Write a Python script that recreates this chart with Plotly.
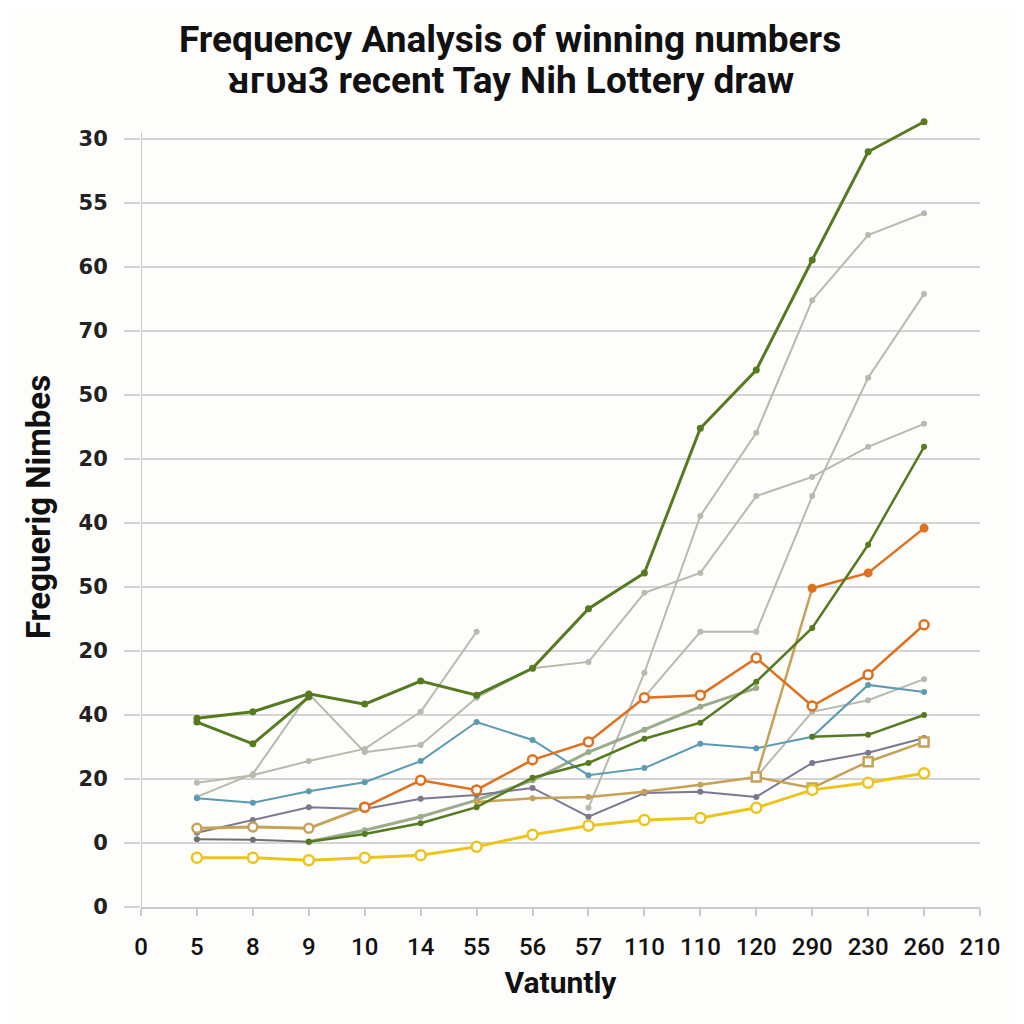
import plotly.graph_objects as go

# ---- data ----
x_idx = list(range(1, 15))
x_tick_labels = ["0", "5", "8", "9", "10", "14", "55", "56", "57", "110", "110", "120", "290", "230", "260", "210"]
y_tick_labels = ["0", "0", "20", "40", "20", "50", "40", "20", "50", "70", "60", "55", "30"]
title_line1 = "Frequency Analysis of winning numbers"
title_line2 = "ᴚᴦᴜᴚ3 recent Tay Nih Lottery draw"

N = None
green_top = [29.5, 30.5, 33.3, 31.7, 35.3, 33.1, 37.3, 46.6, 52.2, 74.8, 83.9, 101.1, 118.0, 122.7]
green_dip = [28.9, 25.5, 32.8, N, N, N, N, N, N, N, N, N, N, N]
green_low = [N, N, 10.2, 11.4, 13.1, 15.6, 20.2, 22.5, 26.3, 28.8, 35.2, 43.6, 56.6, 71.9]
green_short = [N, N, N, N, N, N, N, N, N, N, N, 26.6, 26.9, 30.0]
dark_gray = [10.6, 10.5, 10.2, N, N, N, N, N, N, N, N, N, N, N]
gray_a = [19.4, 20.6, 22.8, 24.7, 30.5, 43.0, N, N, N, N, N, N, N, N]
gray_b = [17.2, 20.8, 33.3, 24.2, 25.3, 32.7, 37.3, 38.3, 49.1, 52.2, 64.2, 67.2, 71.9, 75.5]
gray_e = [N, N, N, N, N, N, N, 15.5, 36.6, 61.1, 74.1, 94.8, 105.0, 108.4]
sage = [N, N, 10.2, 12.0, 14.1, 16.7, 19.8, 24.2, 27.7, 31.3, 34.2, N, N, N]
gray_d = [N, N, N, N, N, N, N, N, N, N, 20.3, 30.5, 32.3, 35.6]
gray_t = [N, N, N, N, N, N, N, N, 32.8, 43.0, 43.0, 64.2, 82.7, 95.8]
blue = [17.0, 16.3, 18.1, 19.5, 22.8, 28.9, 26.1, 20.6, 21.7, 25.5, 24.8, 26.6, 34.7, 33.6]
tan_1 = [12.3, 12.5, 12.3, 15.6, N, N, N, N, N, N, N, N, N, N]
orange_1 = [N, N, N, 15.6, 19.8, 18.3, 23.0, 25.8, 32.7, 33.1, 38.9, 31.4, 36.3, 44.1]
tan_2 = [N, N, N, N, N, 16.4, 17.0, 17.2, 18.0, 19.1, 20.3, 49.8, N, N]
orange_2 = [N, N, N, N, N, N, N, N, N, N, N, 49.8, 52.2, 59.2]
tan_4 = [N, N, N, N, N, N, N, N, N, N, 20.3, 18.6, 22.7, 25.8]
purple = [11.6, 13.6, 15.6, 15.3, 16.9, 17.5, 18.6, 14.1, 17.8, 18.0, 17.2, 22.5, 24.1, 26.4]
yellow = [7.7, 7.7, 7.3, 7.7, 8.1, 9.4, 11.3, 12.7, 13.6, 13.9, 15.5, 18.3, 19.4, 20.9]

GREEN = "#557a1f"
GRAY = "#b6bbad"
SAGE = "#9bac8c"
BLUE = "#5a9ab2"
ORANGE = "#e0701e"
TAN = "#c5a257"
PURPLE = "#7c7891"
DGRAY = "#707070"
YELLOW = "#ebc51c"
AXIS = "#c9c9c9"

fig = go.Figure()


def add(y, color, width=2, size=6, hollow=False, symbol="circle"):
    fig.add_trace(go.Scatter(
        x=x_idx, y=y, mode="lines+markers", cliponaxis=False,
        line=dict(color=color, width=width),
        marker=dict(symbol=symbol, size=size,
                    color="white" if hollow else color,
                    line=dict(color=color, width=2.5 if hollow else 0)),
        showlegend=False, hoverinfo="skip"))


add(gray_a, GRAY)
add(gray_b, GRAY)
add(gray_e, GRAY)
add(gray_t, GRAY)
add(gray_d, GRAY)
add(sage, SAGE, width=3)
add(dark_gray, DGRAY)
add(purple, PURPLE)
add(blue, BLUE)
add(tan_1, TAN, width=3, size=9, hollow=True)
add(tan_2, TAN, width=2.5)
add(tan_4, TAN, width=2.5, size=9, hollow=True, symbol="square")
add(orange_1, ORANGE, width=2.5, size=9, hollow=True)
add(orange_2, ORANGE, width=2.5, size=9)
add(green_low, GREEN, width=2.5)
add(green_short, GREEN, width=2.5)
add(green_dip, GREEN, width=3, size=7)
add(green_top, GREEN, width=3, size=7)
add(yellow, YELLOW, width=3, size=10, hollow=True)

TITLE_FONT = dict(family="Roboto, Liberation Sans, Arial", size=37, color="#111", weight="bold")

Y_MAX = 125.0
Y_AXIS_TOP = 121.0
plot_h = 774 * Y_MAX / Y_AXIS_TOP  # keep 6.4 px per unit

fig.update_layout(
    width=1016, height=1016,
    paper_bgcolor="#fdfdfc", plot_bgcolor="#fdfdfc",
    margin=dict(l=133, r=44, t=int(round(899 - plot_h)), b=117),
    annotations=[
        dict(text=title_line1, xref="paper", yref="paper", x=0.44, y=(899 - 32) / plot_h,
             xanchor="center", yanchor="middle", showarrow=False, font=TITLE_FONT),
        dict(text=title_line2, xref="paper", yref="paper", x=0.44, y=(899 - 73) / plot_h,
             xanchor="center", yanchor="middle", showarrow=False, font=TITLE_FONT),
    ],
    shapes=[
        dict(type="line", xref="x", yref="y", x0=0, x1=0, y0=0, y1=Y_AXIS_TOP,
             line=dict(color=AXIS, width=2), layer="below"),
    ],
)

fig.update_xaxes(
    range=[0, 15], tickmode="array", tickvals=list(range(16)), ticktext=x_tick_labels,
    showgrid=False, zeroline=False,
    showline=True, linecolor=AXIS, linewidth=2,
    ticks="outside", ticklen=7, tickwidth=2, tickcolor=AXIS,
    ticklabelstandoff=10,
    tickfont=dict(family="Roboto, Arial", size=24, color="#111", weight=500),
    title=dict(text="Vatuntly", standoff=12,
               font=dict(family="Roboto, Arial", size=30, color="#111", weight="bold")),
)
fig.update_yaxes(
    range=[0, Y_MAX], tickmode="array", tickvals=[i * 10 for i in range(13)], ticktext=y_tick_labels,
    showgrid=True, gridcolor="#d4d4d4", gridwidth=2, zeroline=False,
    showline=False,
    ticks="outside", ticklen=16, tickwidth=2, tickcolor="#d4d4d4",
    ticklabelstandoff=12,
    tickfont=dict(family="DejaVu Sans", size=21, color="#222", weight="bold"),
    title=dict(text="Freguerig Nimbes", standoff=18,
               font=dict(family="Roboto, Arial", size=33, color="#111", weight="bold")),
)

fig.write_html("out.html")
